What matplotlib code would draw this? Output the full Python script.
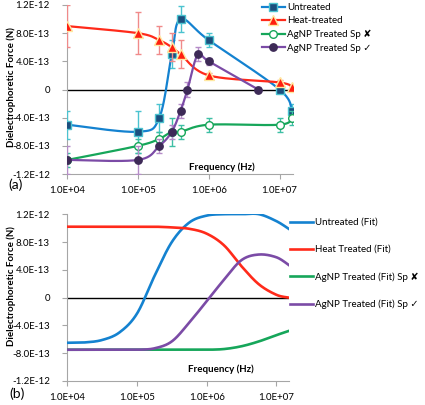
import numpy as np
import matplotlib.pyplot as plt
from matplotlib.lines import Line2D

plt.rcParams['font.family'] = ['Lato', 'DejaVu Sans']

# ---- panel (a): measured DEP force with error bars ----
freq_untreated = [1e4, 1e5, 2e5, 3e5, 4e5, 1e6, 1e7, 1.5e7]
force_untreated = [-5e-13, -6e-13, -4e-13, 5e-13, 1.0e-12, 7e-13, 0.0, -3e-13]
err_untreated = [2e-13, 3e-13, 2e-13, 2e-13, 1.8e-13, 1e-13, 0.5e-13, 1e-13]

freq_heat = [1e4, 1e5, 2e5, 3e5, 4e5, 1e6, 1e7, 1.5e7]
force_heat = [9e-13, 8e-13, 7e-13, 6e-13, 5e-13, 2e-13, 1e-13, 3e-14]
err_heat = [3e-13, 3e-13, 2e-13, 2e-13, 2e-13, 0.3e-13, 0.3e-13, 0.3e-13]

freq_agnp_x = [1e4, 1e5, 2e5, 3e5, 4e5, 1e6, 1e7, 1.5e7]
force_agnp_x = [-1.0e-12, -8e-13, -7e-13, -6e-13, -6e-13, -5e-13, -5e-13, -4e-13]
err_agnp_x = [1e-13, 1e-13, 1e-13, 2e-13, 1e-13, 1e-13, 1e-13, 1e-13]

freq_agnp_ok = [1e4, 1e5, 2e5, 3e5, 4e5, 5e5, 7e5, 1e6, 5e6]
force_agnp_ok = [-1.0e-12, -1.0e-12, -8e-13, -6e-13, -3e-13, 0.0, 5e-13, 4e-13, 0.0]
err_agnp_ok = [2e-13, 2e-13, 1e-13, 1e-13, 1e-13, 1e-13, 1e-13, 0.5e-13, 0.3e-13]

labels_a = ['Untreated', 'Heat-treated', 'AgNP Treated Sp \u2718', 'AgNP Treated Sp \u2713']

# ---- panel (b): fitted curves ----
freq_fit = [1e4, 1.78e4, 3.16e4, 5.62e4, 1e5, 1.78e5, 3.16e5, 5.62e5,
            1e6, 1.78e6, 3.16e6, 5.62e6, 1e7, 1.5e7]
fit_untreated = [-6.5e-13, -6.45e-13, -6.1e-13, -5.0e-13, -2.3e-13, 3.1e-13, 8.0e-13,
                 1.08e-12, 1.18e-12, 1.2e-12, 1.2e-12, 1.2e-12, 1.1e-12, 9.9e-13]
fit_heat = [1.02e-12, 1.02e-12, 1.02e-12, 1.02e-12, 1.02e-12, 1.02e-12, 1.01e-12,
            9.9e-13, 9.2e-13, 7.5e-13, 4.5e-13, 1.9e-13, 4e-14, 0.0]
fit_agnp_x = [-7.5e-13, -7.5e-13, -7.5e-13, -7.5e-13, -7.5e-13, -7.5e-13, -7.5e-13,
              -7.5e-13, -7.5e-13, -7.4e-13, -7.0e-13, -6.3e-13, -5.4e-13, -4.8e-13]
fit_agnp_ok = [-7.5e-13, -7.5e-13, -7.5e-13, -7.5e-13, -7.5e-13, -7.3e-13, -6.3e-13,
               -3.6e-13, -5e-14, 2.6e-13, 5.4e-13, 6.2e-13, 5.8e-13, 4.7e-13]

labels_b = ['Untreated (Fit)', 'Heat Treated (Fit)',
            'AgNP Treated (Fit) Sp \u2718', 'AgNP Treated (Fit) Sp \u2713']

ytick_vals = [-1.2e-12, -8e-13, -4e-13, 0, 4e-13, 8e-13, 1.2e-12]
ytick_labels = ['-1.2E-12', '-8.0E-13', '-4.0E-13', '0', '4.0E-13', '8.0E-13', '1.2E-12']
xtick_vals = [1e4, 1e5, 1e6, 1e7]
xtick_labels = ['1.0E+04', '1.0E+05', '1.0E+06', '1.0E+07']

C_BLUE = '#1482D0'
C_RED = '#FF2A1A'
C_GREEN = '#16A65A'
C_PURPLE = '#7B4BA6'
W, H = 425, 405


def smooth(xs, ys, n=24):
    # Excel-style smoothed line (uniform Catmull-Rom as Bezier), in log-x space
    p = np.column_stack([np.log10(xs), ys])
    p = np.vstack([p[0], p, p[-1]])
    out = []
    t = np.linspace(0, 1, n)[:, None]
    for i in range(1, len(p) - 2):
        b0, b3 = p[i], p[i + 1]
        b1 = p[i] + (p[i + 1] - p[i - 1]) / 6
        b2 = p[i + 1] - (p[i + 2] - p[i]) / 6
        seg = ((1 - t) ** 3) * b0 + 3 * ((1 - t) ** 2) * t * b1 + 3 * (1 - t) * t ** 2 * b2 + t ** 3 * b3
        out.append(seg)
    out = np.vstack(out)
    return 10 ** out[:, 0], out[:, 1]


def style_axes(ax, xmax):
    ax.set_xscale('log')
    ax.set_xlim(1e4, xmax)
    ax.set_ylim(-1.2e-12, 1.2e-12)
    ax.set_xticks(xtick_vals)
    ax.set_xticklabels(xtick_labels, fontsize=7)
    ax.set_yticks(ytick_vals)
    ax.set_yticklabels(ytick_labels, fontsize=7)
    ax.minorticks_off()
    for s in ['top', 'right']:
        ax.spines[s].set_visible(False)
    for s in ['left', 'bottom']:
        ax.spines[s].set_color('#A6A6A6')
        ax.spines[s].set_linewidth(0.8)
    ax.tick_params(axis='both', color='#A6A6A6', length=3.5, width=0.8)
    ax.tick_params(axis='y', pad=9)
    ax.tick_params(axis='x', pad=5)
    ax.axhline(0, color='black', lw=1.0, zorder=1)


fig = plt.figure(figsize=(W / 100, H / 100), dpi=100)
ax_a = fig.add_axes([67.3 / W, 1 - 174 / H, (293 - 67.3) / W, 169 / H])
ax_b = fig.add_axes([67.3 / W, 1 - 381 / H, (288.7 - 67.3) / W, (381 - 214.2) / H])

# ---- panel (a) ----
series_a = [
    (freq_untreated, force_untreated, err_untreated, C_BLUE, 's', '#1B4F7E', '#4BC3D0', '#4BC3D0', 6),
    (freq_heat, force_heat, err_heat, C_RED, '^', '#FF1F10', '#FFE9A0', '#F08A8A', 6.5),
    (freq_agnp_x, force_agnp_x, err_agnp_x, C_GREEN, 'o', 'white', C_GREEN, '#3EBFA5', 5.5),
    (freq_agnp_ok, force_agnp_ok, err_agnp_ok, C_PURPLE, 'o', '#3D2A57', '#3D2A57', '#B58CC8', 5.3),
]
handles = []
for k, (fx, fy, fe, lc, mk, mfc, mec, ec, ms) in enumerate(series_a):
    z = 3 + k
    ax_a.errorbar(fx, fy, yerr=fe, fmt='none', ecolor=ec, elinewidth=1.0,
                  capsize=2.5, capthick=1.0, zorder=z)
    sx, sy = smooth(fx, fy)
    ax_a.plot(sx, sy, color=lc, lw=1.6, zorder=z)
    ax_a.plot(fx, fy, ls='none', marker=mk, ms=ms, mfc=mfc, mec=mec, mew=1.0, zorder=z + 0.5)
    handles.append(Line2D([], [], color=lc, lw=1.6, marker=mk, ms=ms, mfc=mfc, mec=mec, mew=1.0))

style_axes(ax_a, 1.55e7)
fig.legend(handles, labels_a, loc='upper left', bbox_to_anchor=(262 / W, 1 - 3 / H),
           frameon=False, fontsize=7, handlelength=2.35, handletextpad=0.25,
           labelspacing=0.45, borderpad=0, borderaxespad=0)

# ---- panel (b) ----
fits = [(fit_untreated, C_BLUE), (fit_heat, C_RED), (fit_agnp_x, C_GREEN), (fit_agnp_ok, C_PURPLE)]
handles_b = []
for k, (fv, c) in enumerate(fits):
    sx, sy = smooth(freq_fit, fv)
    ax_b.plot(sx, sy, color=c, lw=1.9, zorder=3 + k)
    handles_b.append(Line2D([], [], color=c, lw=1.9))

style_axes(ax_b, 1.5e7)
fig.legend(handles_b, labels_b, loc='upper left', bbox_to_anchor=(290 / W, 1 - 218 / H),
           frameon=False, fontsize=7, handlelength=2.4, handletextpad=0.2,
           labelspacing=1.85, borderpad=0, borderaxespad=0)

# ---- labels ----
for yc in [87, 286]:
    fig.text(11 / W, 1 - yc / H, 'Dielectrophoretic Force (N)', rotation=90,
             ha='center', va='center', fontsize=7, fontweight='bold')
fig.text(222 / W, 1 - 167 / H, 'Frequency (Hz)', ha='center', va='center',
         fontsize=7, fontweight='bold')
fig.text(221 / W, 1 - 369 / H, 'Frequency (Hz)', ha='center', va='center',
         fontsize=7, fontweight='bold')
fig.text(16 / W, 1 - 185 / H, '(a)', ha='center', va='center', fontsize=10)
fig.text(17 / W, 1 - 394 / H, '(b)', ha='center', va='center', fontsize=10)

fig.savefig('out.png', dpi=100)
